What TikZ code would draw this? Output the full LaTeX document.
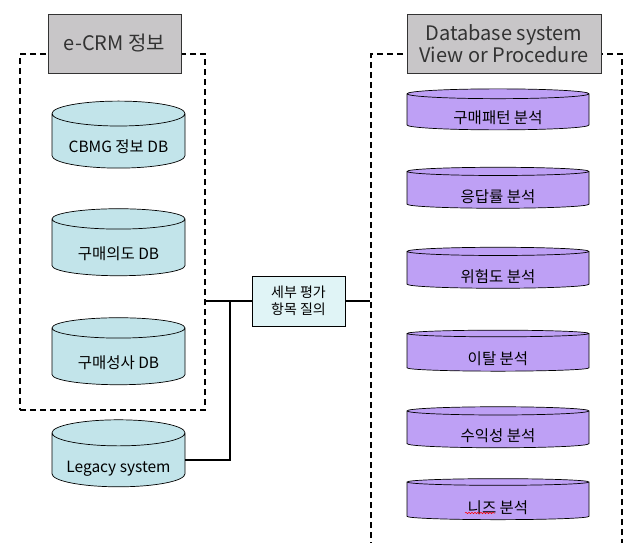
\documentclass[tikz,border=0pt]{standalone}
\usepackage{fontspec}
\setmainfont{Noto Sans CJK KR}
\usetikzlibrary{shapes.geometric, positioning, decorations.pathmorphing}
\definecolor{dbcyan}{RGB}{194,228,234}
\definecolor{dbpurple}{RGB}{190,160,245}
\definecolor{titlegray}{RGB}{200,198,200}
\definecolor{querycyan}{RGB}{224,244,246}
\begin{document}
\begin{tikzpicture}[x=1pt, y=-1pt,
    grp/.style={draw, line width=1.3pt, dash pattern=on 6pt off 4pt},
    titlebox/.style={draw=black!80, fill=titlegray, text=black!80, line width=0.8pt, inner sep=0pt, font=\fontsize{20}{22}\selectfont, align=center},
    dbcyl/.style={cylinder, shape border rotate=90, draw, line width=0.7pt, fill=dbcyan, aspect=0.25, minimum width=133pt, minimum height=67pt, inner sep=0pt,
        text height=24pt, text depth=0pt, font=\fontsize{15.5}{18}\selectfont},
    anacyl/.style={dbcyl, fill=dbpurple, aspect=0.11, minimum width=182pt, minimum height=41pt},
    link/.style={line width=1.8pt}]
  \useasboundingbox (0,0) rectangle (625,543);

  % dashed groups
  \node[grp, minimum width=185pt, minimum height=356pt] (ecrm) at (112.5,232) {};
  \node[grp, minimum width=251pt, minimum height=520pt] (dbsys) at (496.5,314) {};

  % group titles
  \node[titlebox, minimum width=133pt, minimum height=59pt] (ecrmtitle) at (114.5,43.5) {e-CRM 정보};
  \node[titlebox, minimum width=194pt, minimum height=59pt] (dbtitle) at (504,43.5) {Database system\\View or Procedure};

  % e-CRM databases
  \node[dbcyl] (cbmg) at (118.5,141) {CBMG 정보 DB};
  \node[dbcyl] (intent) at (118.5,247.5) {구매의도 DB};
  \node[dbcyl] (deal) at (118.5,356.5) {구매성사 DB};
  \node[dbcyl] (legacy) at (118.5,460) {Legacy system};

  % analysis views
  \foreach \y/\nm/\txt in {112/pattern/구매패턴 분석, 190/resp/응답률 분석, 270/risk/위험도 분석,
      352.5/churn/이탈 분석, 429.5/profit/수익성 분석, 501/needs/니즈 분석}
    \node[anacyl] (\nm) at (498,\y) {\txt};
  \draw[red, line width=0.5pt, decorate, decoration={snake, amplitude=0.7pt, segment length=3pt}] (465,513) -- (495,513);

  % query box
  \node[draw, line width=0.8pt, fill=querycyan, minimum width=93pt, minimum height=50pt, align=center,
      font=\fontsize{14}{17}\selectfont] (query) at (298.5,301) {세부 평가\\항목 질의};

  % connectors
  \coordinate (jn) at (230,301);
  \draw[link] (query.west -| ecrm.east) -- (query.west);
  \draw[link] (legacy.east) -| (jn);
  \draw[link] (query.east) -- (query.east -| dbsys.west);
\end{tikzpicture}
\end{document}
